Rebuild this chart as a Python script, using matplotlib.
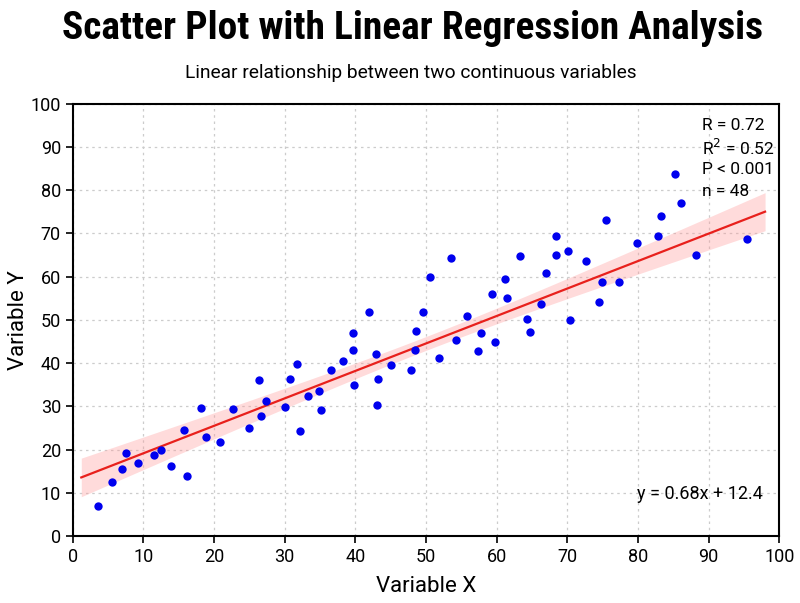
import numpy as np
import matplotlib
matplotlib.use('Agg')
import matplotlib.pyplot as plt
from matplotlib import font_manager

# scatter points
x_vals = [3.5, 5.6, 6.9, 7.6, 9.2, 11.5, 12.5, 13.9, 15.7, 16.2,
          18.1, 18.9, 20.8, 22.7, 25.0, 26.4, 26.7, 27.4, 30.0, 30.7,
          31.7, 32.1, 33.3, 34.8, 35.1, 36.6, 38.3, 39.7, 39.7, 39.8,
          41.9, 42.9, 43.2, 43.0, 45.1, 47.9, 48.5, 48.6, 49.6, 51.9,
          54.2, 55.8, 57.4, 57.8, 59.3, 59.7, 61.5, 64.3, 64.7, 66.3,
          50.6, 53.6, 61.2, 63.3, 67.0, 68.4, 68.4, 70.1, 72.7, 75.5,
          74.9, 77.3, 79.8, 82.9, 83.2, 85.3, 86.1, 88.2, 95.5, 74.5,
          70.4]
y_vals = [7.0, 12.4, 15.5, 19.2, 16.9, 18.7, 19.8, 16.2, 24.6, 13.9,
          29.6, 22.9, 21.7, 29.5, 24.9, 36.2, 27.7, 31.3, 29.9, 36.3,
          39.8, 24.2, 32.5, 33.6, 29.1, 38.5, 40.6, 47.0, 43.1, 34.9,
          51.8, 42.1, 36.3, 30.3, 39.5, 38.3, 43.0, 47.5, 51.9, 41.3,
          45.4, 51.0, 42.9, 47.0, 56.0, 45.0, 55.0, 50.1, 47.2, 53.7,
          60.0, 64.4, 59.4, 64.8, 60.8, 69.4, 64.9, 66.0, 63.7, 73.0,
          58.7, 58.7, 67.9, 69.3, 74.0, 83.8, 77.1, 65.1, 68.7, 54.1,
          50.0]

# fitted line and band as drawn in the reference
fit_slope = 0.635
fit_intercept = 12.8
fit_range = [1.2, 98.0]
ci_center = 50.0
ci_min = 1.6
ci_edge = 4.4

stats_lines = ['R = 0.72', 'R$^2$ = 0.52', 'P < 0.001', 'n = 48']
eq_label = 'y = 0.68x + 12.4'
title = 'Scatter Plot with Linear Regression Analysis'
subtitle = 'Linear relationship between two continuous variables'

plt.rcParams['font.family'] = ['Roboto', 'DejaVu Sans']

# look for a narrow bold face for the title
names = set(f.name for f in font_manager.fontManager.ttflist)
title_family = 'Roboto'
title_stretch = 'normal'
for cand in ['Liberation Sans Narrow', 'Roboto Condensed', 'DejaVu Sans Condensed']:
    if cand in names:
        title_family = cand
        break
else:
    for f in font_manager.fontManager.ttflist:
        if f.name == 'DejaVu Sans' and f.stretch == 'condensed':
            title_family = 'DejaVu Sans'
            title_stretch = 'condensed'
            break

fig = plt.figure(figsize=(8, 6.03), dpi=100)
ax = fig.add_axes([0.091, 0.111, 0.883, 0.717])

xf = np.linspace(fit_range[0], fit_range[1], 200)
yf = fit_slope * xf + fit_intercept
k = (ci_edge**2 - ci_min**2) / (fit_range[1] - ci_center)**2
half = np.sqrt(ci_min**2 + k * (xf - ci_center)**2)
ax.fill_between(xf, yf - half, yf + half, color='#ff9999', alpha=0.35, lw=0, zorder=1)
ax.plot(xf, yf, color='#e8201c', lw=1.6, zorder=2)
ax.scatter(x_vals, y_vals, s=36, color='#0000ee', zorder=3, linewidths=0)

ax.set_xlim(0, 100)
ax.set_ylim(0, 100)
ax.set_xticks(np.arange(0, 101, 10))
ax.set_yticks(np.arange(0, 101, 10))
ax.grid(True, linestyle=(0, (2, 3)), color='#cccccc', lw=0.9)
ax.set_axisbelow(True)
for s in ax.spines.values():
    s.set_linewidth(1.5)
ax.tick_params(labelsize=13, length=5, width=1.2, direction='out')

ax.set_xlabel('Variable X', fontsize=16, labelpad=7)
ax.set_ylabel('Variable Y', fontsize=16, labelpad=1)

for i, line in enumerate(stats_lines):
    ax.text(0.891, 0.949 - i * 0.051, line, transform=ax.transAxes,
            fontsize=12.5, va='center', ha='left')
ax.text(0.977, 0.097, eq_label, transform=ax.transAxes,
        fontsize=13, va='center', ha='right')

t = fig.text(0.515, 0.953, title, fontsize=27, fontweight='bold',
             ha='center', va='center', family=title_family, stretch=title_stretch)
fig.text(0.514, 0.879, subtitle, fontsize=13.8, ha='center', va='center')

# size title to the reference width (about 700 px)
fig.canvas.draw()
w = t.get_window_extent().width
t.set_fontsize(27 * 700 / w)

fig.savefig('out.png', dpi=100)
